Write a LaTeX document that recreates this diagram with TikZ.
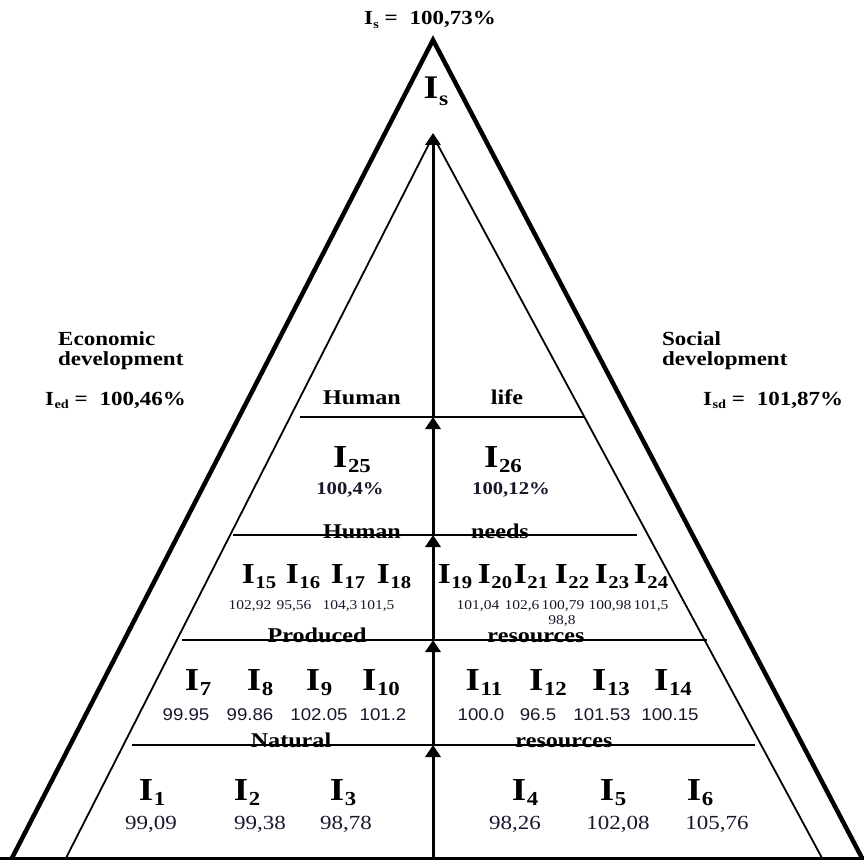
\documentclass[tikz,border=0pt]{standalone}
\usepackage{fontspec}
\setmainfont{Liberation Serif}[FakeStretch=1.15]
\newfontfamily\numsans{Liberation Sans}[FakeStretch=1.1]
\usepackage{graphicx}
\usetikzlibrary{arrows.meta,positioning}
\definecolor{numcol}{RGB}{24,24,44}
\newcommand{\ind}[1]{I\kern.02em\raisebox{-.4ex}{\scalebox{.62}{#1}}}
\tikzset{
  index/.style={font=\bfseries\fontsize{32}{33}\selectfont, inner sep=0pt, anchor=base},
  midindex/.style={font=\bfseries\fontsize{29}{30}\selectfont, inner sep=0pt, anchor=base},
  band/.style={font=\bfseries\fontsize{21}{22}\selectfont, inner sep=0pt, anchor=base},
  heading/.style={font=\bfseries\fontsize{20}{20}\selectfont, align=left, inner sep=0pt, anchor=base west},
  valserif/.style={font=\fontsize{20}{22}\selectfont, text=numcol, inner sep=0pt, anchor=base},
  valsans/.style={font=\numsans\fontsize{17}{19}\selectfont, text=numcol, inner sep=0pt, anchor=base},
  valtiny/.style={font=\fontsize{13.5}{15}\selectfont, text=numcol, inner sep=0pt, anchor=base},
  valbold/.style={font=\bfseries\fontsize{18}{20}\selectfont, text=numcol, inner sep=0pt, anchor=base},
  flow/.style={line width=3pt, -{Triangle[width=15pt,length=12pt]}},
  divider/.style={line width=2.4pt},
}

\begin{document}
\begin{tikzpicture}[x=1pt,y=-1pt]
  \useasboundingbox (0,0) rectangle (864,861);
  % frame of the pyramid
  \coordinate (oL) at (12,858);  \coordinate (oT) at (433,40);  \coordinate (oR) at (862,858);
  \coordinate (iL) at (66,858);  \coordinate (iT) at (433,136); \coordinate (iR) at (822,858);
  \draw[line width=4.5pt] (oL) -- (oT) -- (oR);
  \draw[line width=1.8pt] (iL) -- (iT) -- (iR);
  \draw[line width=3pt] (0,858) -- (864,858);

  % levels
  \coordinate (h1l) at (300,417); \coordinate (h1r) at (585,417);
  \coordinate (h2l) at (233,535); \coordinate (h2r) at (637,535);
  \coordinate (h3l) at (182,640); \coordinate (h3r) at (707,640);
  \coordinate (h4l) at (132,745); \coordinate (h4r) at (755,745);

  % level names
  \node[band] (humlife1) at (362,404) {Human};
  \node[band] (humlife2) at (507,404) {life};
  \node[band] (humneed1) at (362,538) {Human};
  \node[band] (humneed2) at (500,538) {needs};
  \node[band] (prod1) at (317,642) {Produced};
  \node[band] (prod2) at (536,642) {resources};
  \node[band] (nat1) at (291,747) {Natural};
  \node[band] (nat2) at (564,747) {resources};

  \draw[divider] (h1l) -- (h1r);
  \draw[divider] (h2l) -- (h2r);
  \draw[divider] (h3l) -- (h3r);
  \draw[divider] (h4l) -- (h4r);

  % central flow
  \coordinate (a0) at (433,858); \coordinate (a1) at (433,745);
  \coordinate (a2) at (433,640); \coordinate (a3) at (433,535);
  \coordinate (a4) at (433,417); \coordinate (a5) at (433,133);
  \draw[flow] (a0) -- (a1);
  \draw[flow] (a1) -- (a2);
  \draw[flow] (a2) -- (a3);
  \draw[flow] (a3) -- (a4);
  \draw[flow] (a4) -- (a5);

  % totals
  \node[heading, anchor=base] (total) at (430,25) {\ind{s} =\hspace{.6em}100,73\%};
  \node[index, font=\bfseries\fontsize{33}{34}\selectfont] (top) at (436,99) {\ind{s}};
  \node[heading] (eco) at (58,365) {Economic\\development};
  \node[heading] (ied) at (45,405) {\ind{ed} =\hspace{.6em}100,46\%};
  \node[heading] (soc) at (662,365) {Social\\development};
  \node[heading] (isd) at (703,405) {\ind{sd} =\hspace{.6em}101,87\%};

  % human life
  \node[index] (i25) at (352,467) {\ind{25}};
  \node[index] (i26) at (503,467) {\ind{26}};
  \node[valbold] (v25) at (350,494) {100,4\%};
  \node[valbold] (v26) at (511,494) {100,12\%};

  % human needs
  \node[midindex] (i15) at (259,583) {\ind{15}};
  \node[midindex] (i16) at (303,583) {\ind{16}};
  \node[midindex] (i17) at (348,583) {\ind{17}};
  \node[midindex] (i18) at (394,583) {\ind{18}};
  \node[midindex] (i19) at (455,583) {\ind{19}};
  \node[midindex] (i20) at (495,583) {\ind{20}};
  \node[midindex] (i21) at (531,583) {\ind{21}};
  \node[midindex] (i22) at (572,583) {\ind{22}};
  \node[midindex] (i23) at (612,583) {\ind{23}};
  \node[midindex] (i24) at (651,583) {\ind{24}};
  \node[valtiny] (v15) at (250,609) {102,92};
  \node[valtiny] (v16) at (294,609) {95,56};
  \node[valtiny] (v17) at (340,609) {104,3};
  \node[valtiny] (v18) at (377,609) {101,5};
  \node[valtiny] (v19) at (478,609) {101,04};
  \node[valtiny] (v20) at (522,609) {102,6};
  \node[valtiny] (v21) at (563,609) {100,79};
  \node[valtiny] (v22) at (610,609) {100,98};
  \node[valtiny] (v23) at (651,609) {101,5};
  \node[valtiny] (v24) at (562,624) {98,8};

  % produced resources
  \node[index] (i7)  at (198,690) {\ind{7}};
  \node[index] (i8)  at (260,690) {\ind{8}};
  \node[index] (i9)  at (319,690) {\ind{9}};
  \node[index] (i10) at (381,690) {\ind{10}};
  \node[index] (i11) at (484,690) {\ind{11}};
  \node[index] (i12) at (548,690) {\ind{12}};
  \node[index] (i13) at (611,690) {\ind{13}};
  \node[index] (i14) at (673,690) {\ind{14}};
  \node[valsans] (v7)  at (186,720) {99.95};
  \node[valsans] (v8)  at (250,720) {99.86};
  \node[valsans] (v9)  at (319,720) {102.05};
  \node[valsans] (v10) at (383,720) {101.2};
  \node[valsans] (v11) at (481,720) {100.0};
  \node[valsans] (v12) at (538,720) {96.5};
  \node[valsans] (v13) at (602,720) {101.53};
  \node[valsans] (v14) at (670,720) {100.15};

  % natural resources
  \node[index] (i1) at (152,800) {\ind{1}};
  \node[index] (i2) at (247,800) {\ind{2}};
  \node[index] (i3) at (343,800) {\ind{3}};
  \node[index] (i4) at (525,800) {\ind{4}};
  \node[index] (i5) at (613,800) {\ind{5}};
  \node[index] (i6) at (700,800) {\ind{6}};
  \node[valserif] (v1) at (151,829) {99,09};
  \node[valserif] (v2) at (260,829) {99,38};
  \node[valserif] (v3) at (346,829) {98,78};
  \node[valserif] (v4) at (515,829) {98,26};
  \node[valserif] (v5) at (618,829) {102,08};
  \node[valserif] (v6) at (717,829) {105,76};
\end{tikzpicture}
\end{document}
